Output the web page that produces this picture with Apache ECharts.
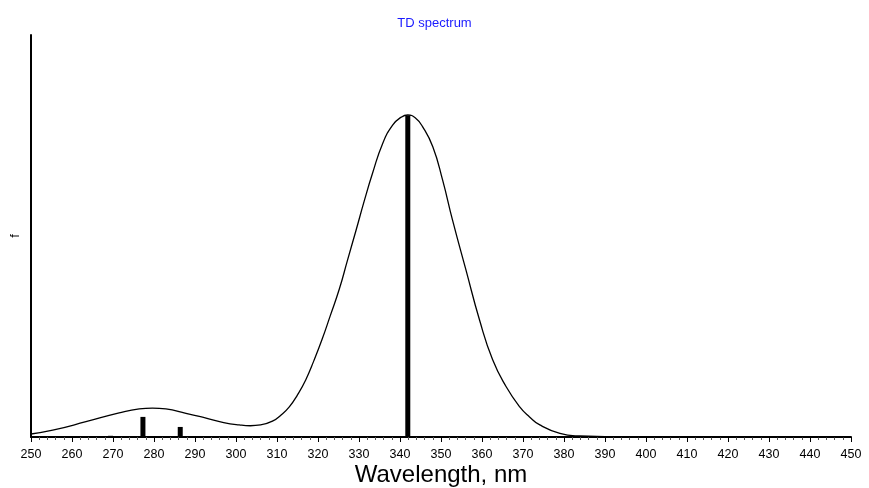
<!DOCTYPE html>
<html>
<head>
<meta charset="utf-8">
<script src="https://cdn.jsdelivr.net/npm/echarts@6/dist/echarts.min.js"></script>
<style>html,body{margin:0;padding:0;background:#fff}#c{width:869px;height:488px}</style>
</head>
<body>
<div id="c"></div>
<script>
// Convoluted spectrum (wavelength nm, f)
const curveX = [250, 255.3, 263.4, 271.5, 276.4, 279.6, 282.9, 287.8, 292.7, 297, 300.8, 303.5, 306, 309, 311, 313, 315, 317, 319, 321, 323, 325.2, 327.2, 329.3, 331.3, 333.3, 335.8, 338.2, 340.2, 341.9, 343.7, 345.5, 348, 350.4, 352.8, 356.1, 359.4, 362.6, 365.9, 369.2, 371.6, 374.1, 379, 383.8, 390, 400, 450];
const curveY = [0.0075, 0.017, 0.038, 0.060, 0.070, 0.072, 0.070, 0.059, 0.047, 0.036, 0.030, 0.028, 0.030, 0.040, 0.055, 0.075, 0.105, 0.142, 0.190, 0.243, 0.302, 0.368, 0.440, 0.515, 0.588, 0.656, 0.731, 0.776, 0.795, 0.801, 0.794, 0.772, 0.722, 0.639, 0.540, 0.415, 0.291, 0.192, 0.125, 0.075, 0.050, 0.030, 0.009, 0.0025, 0.001, 0, 0];
// Stick transitions
const stickX = [269.4, 277.3, 286.4, 341.9];
const stickY = [0.003, 0.05, 0.025, 0.80];
const xMin = 250, xMax = 450, xStep = 10;

const chart = echarts.init(document.getElementById('c'));
chart.setOption({
  animation: false,
  backgroundColor: '#fff',
  title: {
    text: 'TD spectrum', left: 'center', top: 12,
    textStyle: { color: '#1a1aff', fontSize: 13, fontWeight: 'normal', fontFamily: 'Liberation Sans, Arial' }
  },
  grid: { left: 31, right: 18, top: 35, bottom: 51, containLabel: false, outerBoundsMode: 'none' },
  xAxis: {
    type: 'value', min: xMin, max: xMax, interval: xStep,
    name: 'Wavelength, nm', nameLocation: 'middle', nameGap: 26, nameMoveOverlap: false,
    nameTextStyle: { color: '#000', fontSize: 24, fontFamily: 'Liberation Sans, Arial' },
    axisLine: { show: true, lineStyle: { color: '#000', width: 2 } },
    axisTick: { show: true, length: 5, lineStyle: { color: '#000', width: 1 } },
    minorTick: { show: true, splitNumber: 5, length: 3, lineStyle: { color: '#555', width: 1 } },
    axisLabel: { color: '#000', fontSize: 12.5, margin: 11, fontFamily: 'Liberation Sans, Arial' },
    splitLine: { show: false }
  },
  yAxis: {
    type: 'value', min: 0, max: 1,
    name: 'f', nameLocation: 'middle', nameGap: 9, nameMoveOverlap: false,
    nameTextStyle: { color: '#000', fontSize: 13, fontFamily: 'Liberation Sans, Arial' },
    axisLine: { show: true, lineStyle: { color: '#000', width: 2 } },
    axisTick: { show: false }, axisLabel: { show: false }, splitLine: { show: false }
  },
  series: [
    {
      type: 'bar', barWidth: 5,
      itemStyle: { color: '#000' },
      data: stickX.map((x, i) => [x, stickY[i]]),
      z: 3
    },
    {
      type: 'line', smooth: 0.5, symbol: 'none',
      lineStyle: { color: '#000', width: 1.3 },
      data: curveX.map((x, i) => [x, curveY[i]]),
      z: 2
    }
  ]
});
</script>
</body>
</html>
